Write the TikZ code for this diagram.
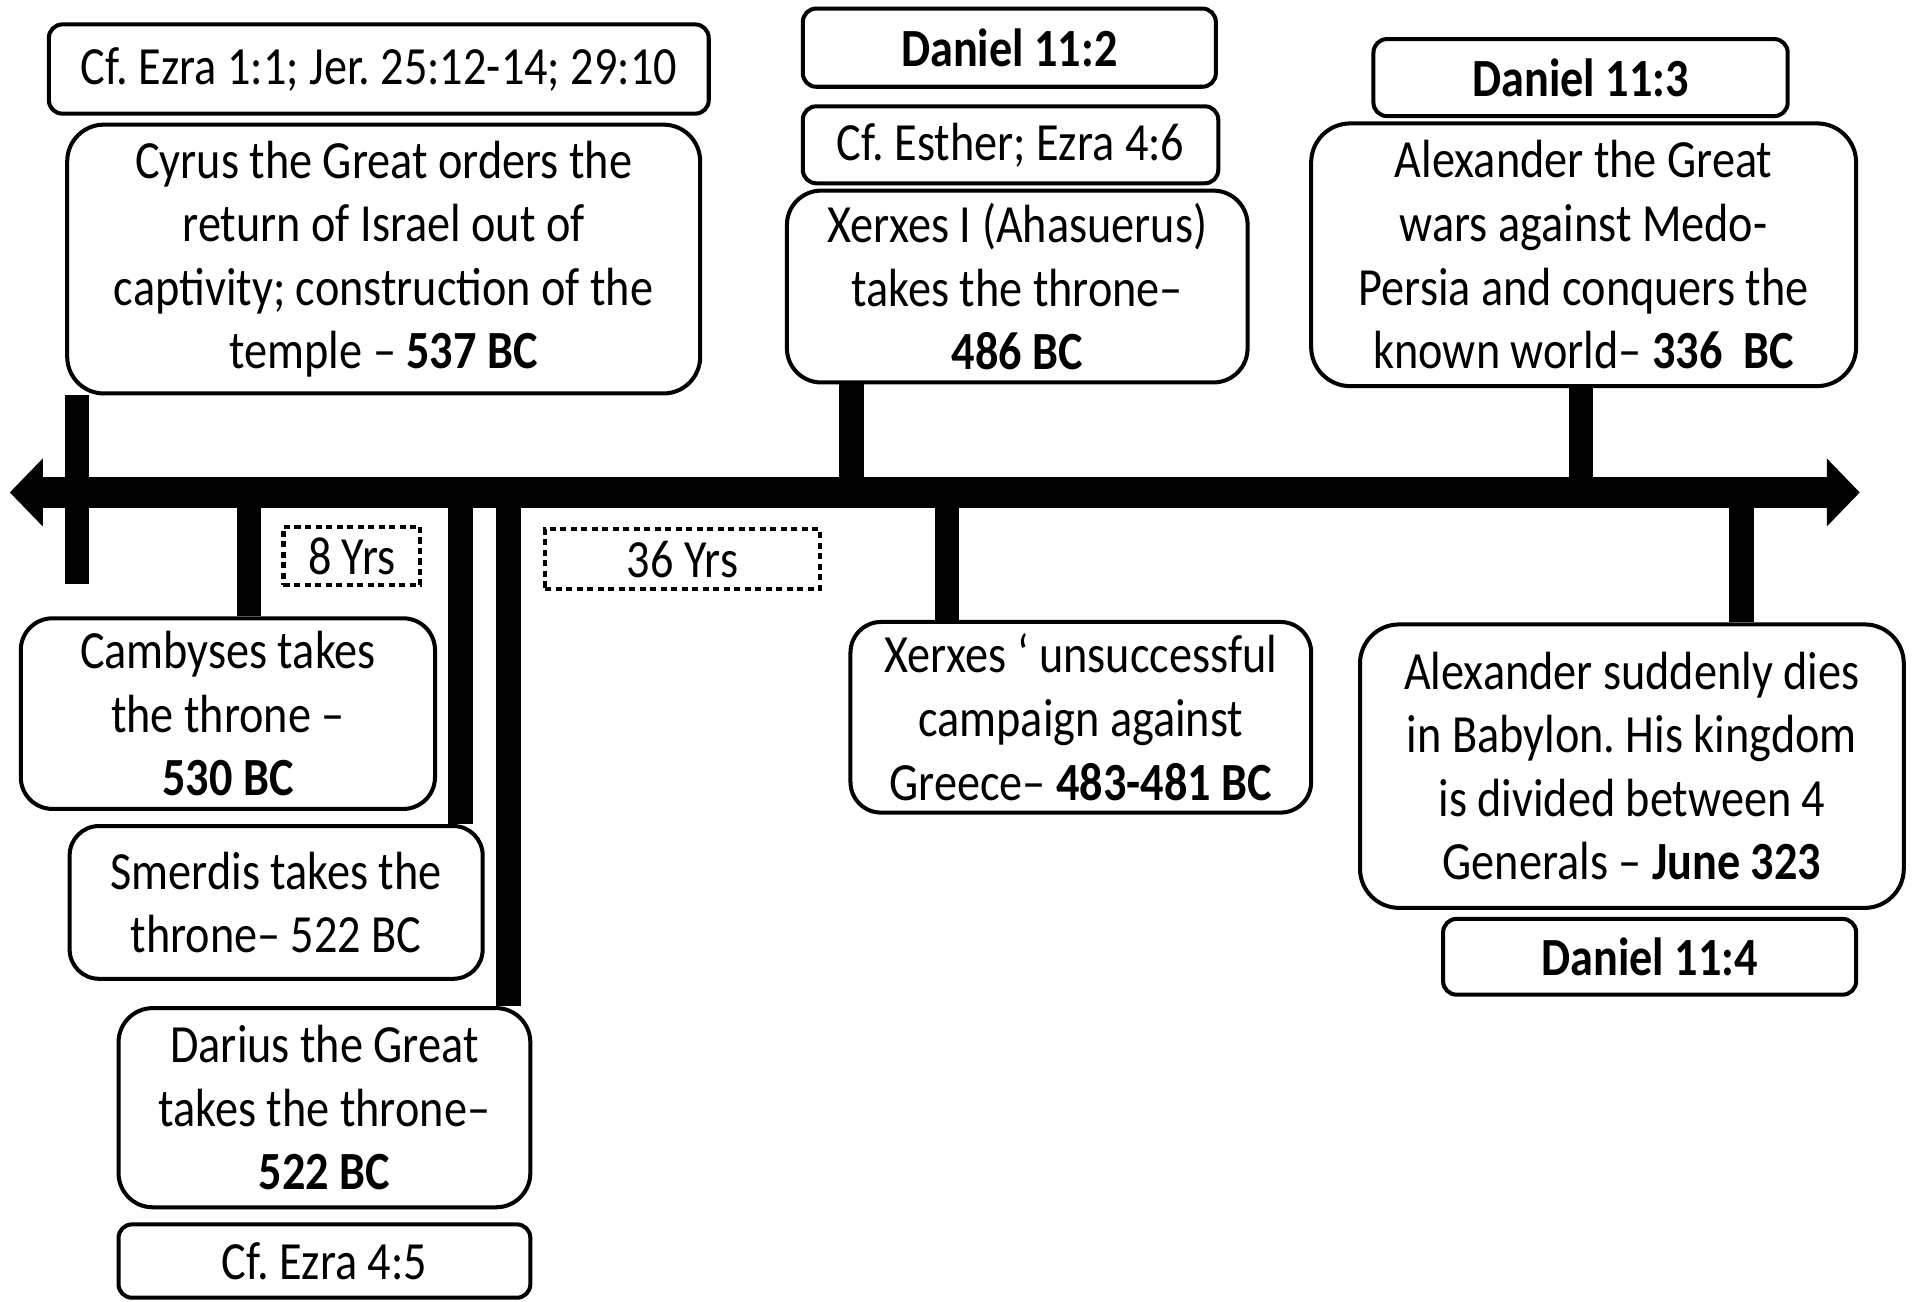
\documentclass[tikz,border=0pt]{standalone}
\usepackage{fontspec}
\setmainfont{Carlito}[FakeStretch=0.86]
\usetikzlibrary{arrows.meta}
\newcommand\tlboxfont{\fontsize{44}{52}\selectfont}
\begin{document}
\frenchspacing
\begin{tikzpicture}[x=1pt,y=-1pt,
  txt/.style={font=\tlboxfont},
  box/.style={draw, fill=white, line width=3.3pt, rounded corners=#1, inner sep=0pt, align=flush center, txt},
  box/.default=11pt,
  sz/.style 2 args={minimum width=#1pt, minimum height=#2pt, text width=#1pt},
  dotbox/.style={draw, line width=3.5pt, dash pattern=on 5pt off 3.6pt, inner sep=0pt, align=flush center, txt},
  tick/.style={line width=20pt, line cap=butt},
  bar/.style={line width=26pt, {Triangle[length=27pt,width=54pt]}-{Triangle[length=27pt,width=54pt]}}
]
\useasboundingbox[fill=white] (0,0) rectangle (1568,1065);

% timeline end points and tick positions
\coordinate (L) at (8,403);
\coordinate (R) at (1522,403);
\coordinate (k1) at (63,478);
\coordinate (k2) at (204,403);
\coordinate (k3) at (377,403);
\coordinate (k4) at (416,403);
\coordinate (k5) at (697,403);
\coordinate (k6) at (775,403);
\coordinate (k7) at (1294,403);
\coordinate (k8) at (1425,403);

% upper boxes
\path
  node[box, sz={540}{73}] (ref1) at (310,56.5) {Cf. Ezra 1:1; Jer. 25:12-14; 29:10}
  node[box=30pt, sz={518}{220}] (cyrus) at (314,212) {Cyrus the Great orders the\\return of Israel out of\\captivity; construction of the\\temple – \textbf{537 BC}}
  node[box, sz={338}{64}] (dan2) at (826,39) {\textbf{Daniel 11:2}}
  node[box, sz={340}{63}] (ref2) at (827,118.5) {Cf. Esther; Ezra 4:6}
  node[box=28pt, sz={377}{157}] (xerx) at (832.5,234.5) {Xerxes I (Ahasuerus)\\takes the throne–\\\textbf{486 BC}}
  node[box, sz={339}{63}] (dan3) at (1293.5,63.5) {\textbf{Daniel 11:3}}
  node[box=32pt, sz={446}{215}] (alexg) at (1296,208.5) {Alexander the Great\\wars against Medo-\\Persia and conquers the\\known world– \textbf{336\ \ BC}};

% lower boxes
\path
  node[box=26pt, sz={339}{156}] (camb) at (186.5,584) {Cambyses takes\\the throne –\\\textbf{530 BC}}
  node[box=24pt, sz={338}{125}] (smer) at (226,738.5) {Smerdis takes the\\throne– 522 BC}
  node[box=28pt, sz={337}{163}] (dar) at (265.5,906.5) {Darius the Great\\takes the throne–\\\textbf{522 BC}}
  node[box, sz={337}{60}] (ref3) at (265.5,1032) {Cf. Ezra 4:5}
  node[box=25pt, sz={377}{156}] (xcamp) at (884.5,587) {Xerxes ‘ unsuccessful\\campaign against\\Greece– \textbf{483-481 BC}}
  node[box=32pt, sz={445}{232}] (alexd) at (1335.5,627) {Alexander suddenly dies\\in Babylon. His kingdom\\is divided between 4\\Generals – \textbf{June 323}}
  node[box, sz={338}{62}] (dan4) at (1350,783) {\textbf{Daniel 11:4}};

% ticks
\draw[tick] (k1 |- cyrus.south) -- (k1);
\draw[tick] (k5 |- xerx.south) -- (k5);
\draw[tick] (k7 |- alexg.south) -- (k7);
\draw[tick] (k2) -- (k2 |- camb.north);
\draw[tick] (k3) -- (k3 |- smer.north);
\draw[tick] (k4) -- (k4 |- dar.north);
\draw[tick] (k6) -- (k6 |- xcamp.north);
\draw[tick] (k8) -- (k8 |- alexd.north);

% main timeline
\draw[bar] (L) -- (R);

% dotted interval labels
\node[dotbox, sz={112}{48}] (y8) at (288,455) {8 Yrs};
\node[dotbox, sz={225}{49}] (y36) at (558.5,457.5) {36 Yrs};
\end{tikzpicture}
\end{document}
